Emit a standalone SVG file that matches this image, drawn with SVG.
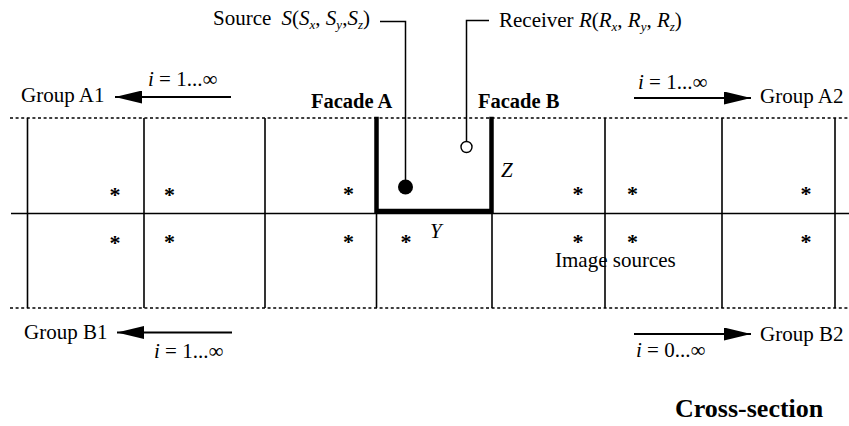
<svg xmlns="http://www.w3.org/2000/svg" width="849" height="426" viewBox="0 0 849 426">
  <style>
    text { font-family: "Liberation Serif", "Times New Roman", serif; font-size: 21px; fill: #000; }
    .it { font-style: italic; }
    .b { font-weight: bold; font-size: 20.5px; }
    .title { font-weight: bold; font-size: 26px; }
    .sub { font-size: 13px; font-style: italic; }
    .thin { stroke: #000; stroke-width: 1.6; fill: none; }
    .dot { stroke: #000; stroke-width: 1.6; stroke-dasharray: 3 2.6; fill: none; }
    .wall { stroke: #000; stroke-width: 4.5; fill: none; stroke-linecap: square; }
    .lead { stroke: #000; stroke-width: 1.5; fill: none; }
    .arr { stroke: #000; stroke-width: 2; fill: none; }
    .star { font-size: 22px; font-weight: bold; text-anchor: middle; }
  </style>
  <defs>
    <marker id="head" viewBox="0 0 27 13" refX="27" refY="6.5" markerWidth="27" markerHeight="13" markerUnits="userSpaceOnUse" orient="auto">
      <path d="M0,0 L27,6.5 L0,13 z" fill="#000"/>
    </marker>
  </defs>

  <!-- ground and boundary lines -->
  <g id="grid">
    <line class="dot" x1="10" y1="118" x2="849" y2="118"/>
    <line class="thin" x1="11" y1="213.5" x2="849" y2="213.5"/>
    <line class="dot" x1="10" y1="308" x2="849" y2="308"/>
    <!-- building dividers -->
    <line class="thin" x1="27.5" y1="118" x2="27.5" y2="308"/>
    <line class="thin" x1="144" y1="118" x2="144" y2="308"/>
    <line class="thin" x1="265" y1="118" x2="265" y2="308"/>
    <line class="thin" x1="605" y1="118" x2="605" y2="308"/>
    <line class="thin" x1="722" y1="118" x2="722" y2="308"/>
    <line class="thin" x1="835" y1="118" x2="835" y2="308"/>
    <line class="thin" x1="376.5" y1="213" x2="376.5" y2="308"/>
    <line class="thin" x1="492" y1="213" x2="492" y2="308"/>
  </g>

  <!-- street canyon -->
  <g id="canyon">
    <path class="wall" d="M376.5,119 V211 H491.5 V119"/>
    <text class="b" x="311" y="108">Facade A</text>
    <text class="b" x="478" y="108">Facade B</text>
    <text class="it" x="501" y="177">Z</text>
    <text class="it" x="430" y="238">Y</text>
  </g>

  <!-- image sources -->
  <g id="image-sources">
    <text class="star" x="115" y="202">*</text>
    <text class="star" x="169.5" y="202">*</text>
    <text class="star" x="348.5" y="201">*</text>
    <text class="star" x="578" y="201">*</text>
    <text class="star" x="632.5" y="201">*</text>
    <text class="star" x="806" y="201">*</text>
    <text class="star" x="115" y="250">*</text>
    <text class="star" x="169.5" y="249">*</text>
    <text class="star" x="348.5" y="249">*</text>
    <text class="star" x="406" y="249">*</text>
    <text class="star" x="578" y="249">*</text>
    <text class="star" x="632.5" y="249">*</text>
    <text class="star" x="806" y="249">*</text>
    <text x="555" y="267">Image sources</text>
  </g>

  <!-- source -->
  <g id="source">
    <path class="lead" d="M380,21.5 H405.5 V182"/>
    <circle cx="405.5" cy="187" r="7.5" fill="#000"/>
    <text x="213" y="25">Source <tspan class="it" dx="5">S</tspan>(<tspan class="it">S</tspan><tspan class="sub" dy="4">x</tspan><tspan dy="-4">, </tspan><tspan class="it">S</tspan><tspan class="sub" dy="4">y</tspan><tspan dy="-4">,</tspan><tspan class="it">S</tspan><tspan class="sub" dy="4">z</tspan><tspan dy="-4">)</tspan></text>
  </g>

  <!-- receiver -->
  <g id="receiver">
    <path class="lead" d="M489,20.5 H466.5 V141.5"/>
    <circle cx="466.5" cy="147" r="5.5" fill="#fff" stroke="#000" stroke-width="1.4"/>
    <text x="499" y="27">Receiver <tspan class="it">R</tspan>(<tspan class="it">R</tspan><tspan class="sub" dy="4">x</tspan><tspan dy="-4">, </tspan><tspan class="it">R</tspan><tspan class="sub" dy="4">y</tspan><tspan dy="-4">, </tspan><tspan class="it">R</tspan><tspan class="sub" dy="4">z</tspan><tspan dy="-4">)</tspan></text>
  </g>

  <!-- group direction arrows -->
  <g id="connectors">
    <line class="arr" x1="231" y1="97" x2="115" y2="97" marker-end="url(#head)"/>
    <line class="arr" x1="634" y1="98" x2="751" y2="98" marker-end="url(#head)"/>
    <line class="arr" x1="232" y1="332.5" x2="117" y2="332.5" marker-end="url(#head)"/>
    <line class="arr" x1="634" y1="334" x2="751" y2="334" marker-end="url(#head)"/>
  </g>

  <g id="group-a1">
    <text x="21" y="102">Group A1</text>
    <text x="148" y="86"><tspan class="it">i</tspan> = 1...∞</text>
  </g>
  <g id="group-a2">
    <text x="760" y="103">Group A2</text>
    <text x="638" y="89"><tspan class="it">i</tspan> = 1...∞</text>
  </g>
  <g id="group-b1">
    <text x="24" y="339">Group B1</text>
    <text x="154" y="358"><tspan class="it">i</tspan> = 1...∞</text>
  </g>
  <g id="group-b2">
    <text x="760" y="341">Group B2</text>
    <text x="636" y="357"><tspan class="it">i</tspan> = 0...∞</text>
  </g>

  <text class="title" x="675" y="417">Cross-section</text>
</svg>
